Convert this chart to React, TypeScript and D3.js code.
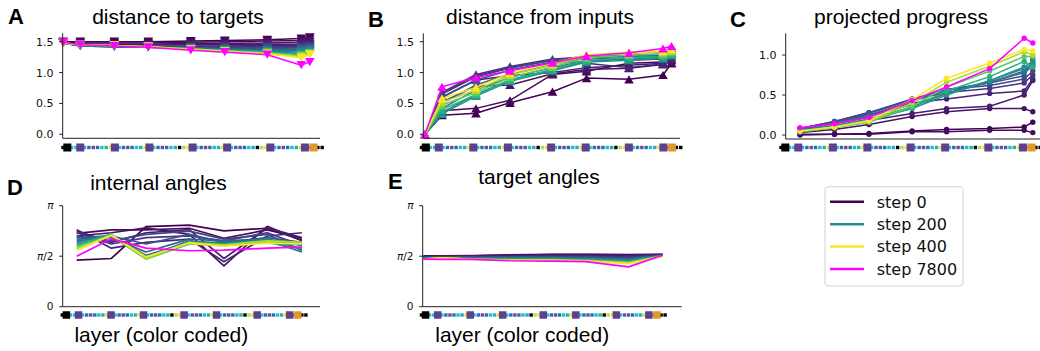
import React from "react";
import * as d3 from "d3";

// training steps shown as separate lines (last one is the final step)
const steps = [0, 10, 20, 30, 40, 60, 80, 100, 125, 150, 175, 200, 250, 300, 350, 400, 7800];
const legendSteps = [0, 200, 400, 7800];

// layer indices where each panel has a value
const layersA = [0, 4, 12, 20, 30, 38, 48, 56, 58];
const layersB = [0, 4, 12, 20, 30, 38, 48, 56, 58];
const layersC = [4, 12, 20, 30, 38, 48, 56, 58];
const layersD = [4, 12, 20, 30, 38, 48, 56];
const layersE = [0, 4, 12, 20, 30, 38, 48, 56];

// layer types along the x axis (color code strip)
const layerTypes = [
  "k", "in", "c", "c", "blk",
  "c", "b", "p", "b", "c", "t", "y", "blk",
  "c", "b", "p", "b", "c", "t", "y", "blk",
  "c", "b", "p", "b", "c", "t", "k", "g", "y", "blk",
  "c", "b", "p", "b", "c", "t", "y", "blk",
  "c", "b", "p", "b", "c", "t", "k", "g", "y", "blk",
  "c", "b", "p", "b", "c", "t", "y", "blk",
  "r", "out", "k", "k",
];
const bigTypes = ["in", "blk", "out"];
const typeColor: Record<string, string> = {
  in: "#000000", blk: "#5d4190", out: "#e0982a", k: "#000000",
  c: "#1cc0d2", b: "#2b6db2", p: "#6b4c9a", t: "#2aaeb5",
  y: "#f4e01c", g: "#a8e05f", r: "#f0506e",
};

// A: distance to targets
const distTargets = [
  [1.50, 1.50, 1.50, 1.50, 1.51, 1.52, 1.53, 1.55, 1.57],
  [1.49, 1.48, 1.48, 1.48, 1.49, 1.50, 1.51, 1.52, 1.54],
  [1.49, 1.46, 1.46, 1.46, 1.47, 1.47, 1.48, 1.49, 1.50],
  [1.48, 1.45, 1.45, 1.45, 1.45, 1.45, 1.46, 1.46, 1.47],
  [1.48, 1.44, 1.44, 1.43, 1.43, 1.43, 1.44, 1.44, 1.45],
  [1.48, 1.44, 1.43, 1.42, 1.42, 1.42, 1.42, 1.42, 1.43],
  [1.48, 1.43, 1.42, 1.41, 1.41, 1.40, 1.40, 1.40, 1.41],
  [1.48, 1.43, 1.42, 1.41, 1.40, 1.39, 1.39, 1.38, 1.40],
  [1.48, 1.43, 1.42, 1.41, 1.40, 1.38, 1.37, 1.37, 1.38],
  [1.48, 1.44, 1.42, 1.41, 1.39, 1.37, 1.36, 1.35, 1.37],
  [1.48, 1.44, 1.43, 1.41, 1.39, 1.37, 1.35, 1.33, 1.35],
  [1.48, 1.44, 1.43, 1.41, 1.39, 1.36, 1.34, 1.31, 1.34],
  [1.48, 1.45, 1.43, 1.42, 1.38, 1.36, 1.33, 1.29, 1.32],
  [1.48, 1.45, 1.43, 1.42, 1.38, 1.35, 1.32, 1.27, 1.31],
  [1.48, 1.45, 1.44, 1.42, 1.38, 1.35, 1.31, 1.26, 1.30],
  [1.48, 1.45, 1.44, 1.42, 1.37, 1.34, 1.30, 1.24, 1.29],
  [1.49, 1.45, 1.43, 1.41, 1.36, 1.33, 1.29, 1.12, 1.17],
];

// B: distance from inputs
const distInputs = [
  [0, 0.31, 0.34, 0.51, 0.69, 0.91, 0.89, 0.96, 1.15],
  [0, 0.38, 0.42, 0.55, 0.97, 1.02, 1.15, 1.17, 1.16],
  [0, 0.52, 0.78, 0.80, 0.98, 1.05, 1.07, 1.13, 1.20],
  [0, 0.60, 0.88, 0.95, 1.00, 1.08, 1.12, 1.15, 1.22],
  [0, 0.66, 0.95, 1.08, 1.20, 1.15, 1.08, 1.14, 1.25],
  [0, 0.68, 0.97, 1.10, 1.22, 1.25, 1.20, 1.22, 1.28],
  [0, 0.65, 0.93, 1.07, 1.20, 1.27, 1.27, 1.28, 1.40],
  [0, 0.60, 0.88, 1.04, 1.17, 1.26, 1.28, 1.30, 1.38],
  [0, 0.50, 0.80, 0.98, 1.13, 1.24, 1.26, 1.29, 1.35],
  [0, 0.42, 0.72, 0.92, 1.08, 1.20, 1.24, 1.27, 1.32],
  [0, 0.35, 0.65, 0.88, 1.05, 1.18, 1.22, 1.25, 1.30],
  [0, 0.33, 0.62, 0.86, 1.03, 1.17, 1.20, 1.23, 1.28],
  [0, 0.40, 0.64, 0.88, 1.05, 1.20, 1.24, 1.26, 1.30],
  [0, 0.47, 0.68, 0.92, 1.09, 1.24, 1.28, 1.30, 1.33],
  [0, 0.52, 0.72, 0.96, 1.12, 1.27, 1.31, 1.33, 1.36],
  [0, 0.58, 0.76, 0.99, 1.15, 1.29, 1.33, 1.35, 1.38],
  [0, 0.77, 0.92, 1.03, 1.16, 1.27, 1.32, 1.39, 1.43],
];

// C: projected progress
const progress = [
  [0.00, 0.01, 0.02, 0.05, 0.07, 0.08, 0.10, 0.16],
  [0.01, 0.01, 0.01, 0.04, 0.04, 0.06, 0.06, 0.03],
  [0.03, 0.07, 0.13, 0.23, 0.29, 0.33, 0.33, 0.29],
  [0.05, 0.11, 0.18, 0.27, 0.33, 0.36, 0.50, 0.68],
  [0.07, 0.15, 0.25, 0.40, 0.45, 0.52, 0.55, 0.70],
  [0.08, 0.17, 0.28, 0.44, 0.53, 0.58, 0.65, 0.75],
  [0.08, 0.17, 0.28, 0.45, 0.57, 0.62, 0.70, 0.80],
  [0.08, 0.16, 0.27, 0.44, 0.57, 0.65, 0.74, 0.95],
  [0.07, 0.15, 0.25, 0.42, 0.55, 0.66, 0.78, 0.86],
  [0.06, 0.14, 0.23, 0.38, 0.52, 0.66, 0.80, 0.90],
  [0.05, 0.12, 0.20, 0.35, 0.52, 0.68, 0.83, 0.88],
  [0.05, 0.11, 0.19, 0.33, 0.50, 0.68, 0.85, 0.92],
  [0.04, 0.10, 0.17, 0.34, 0.55, 0.73, 0.92, 0.85],
  [0.04, 0.09, 0.16, 0.36, 0.60, 0.80, 0.98, 0.98],
  [0.05, 0.10, 0.17, 0.40, 0.66, 0.86, 1.04, 1.00],
  [0.05, 0.10, 0.18, 0.44, 0.71, 0.90, 1.07, 1.05],
  [0.09, 0.14, 0.22, 0.43, 0.60, 0.83, 1.21, 1.15],
];

// D: internal angles (radians)
const internalAngles = [
  [1.45, 1.50, 2.49, 2.54, 2.36, 2.44, 2.07],
  [2.28, 2.39, 2.39, 2.44, 2.13, 2.39, 2.13],
  [2.20, 2.30, 2.45, 2.25, 1.27, 2.50, 2.05],
  [2.36, 2.00, 2.30, 2.40, 1.50, 2.45, 2.15],
  [2.39, 1.82, 2.00, 2.10, 1.40, 2.20, 2.30],
  [2.30, 1.95, 2.15, 2.20, 2.05, 2.30, 1.90],
  [2.20, 2.05, 2.25, 2.35, 2.10, 2.25, 1.75],
  [2.15, 2.20, 1.95, 2.25, 2.00, 2.15, 2.00],
  [2.10, 2.15, 1.70, 2.10, 2.05, 2.10, 1.80],
  [2.05, 2.20, 1.60, 2.00, 2.00, 2.05, 1.70],
  [2.00, 2.25, 1.55, 2.05, 1.95, 2.10, 1.90],
  [1.95, 2.20, 1.52, 1.98, 1.92, 2.00, 1.80],
  [1.90, 2.25, 1.50, 1.95, 1.95, 2.05, 2.00],
  [1.85, 2.20, 1.48, 1.95, 1.90, 2.00, 1.95],
  [1.80, 2.24, 1.50, 2.00, 1.92, 2.05, 2.00],
  [1.75, 2.22, 1.55, 1.98, 1.88, 1.98, 1.95],
  [1.57, 2.11, 1.82, 1.74, 1.76, 1.82, 1.85],
];

// E: target angles (radians)
const targetAngles = [
  [1.57, 1.57, 1.58, 1.60, 1.62, 1.63, 1.62, 1.62],
  [1.58, 1.58, 1.59, 1.61, 1.63, 1.62, 1.61, 1.63],
  [1.57, 1.57, 1.58, 1.59, 1.61, 1.61, 1.60, 1.62],
  [1.56, 1.56, 1.57, 1.58, 1.60, 1.60, 1.58, 1.61],
  [1.55, 1.56, 1.56, 1.57, 1.58, 1.58, 1.56, 1.61],
  [1.54, 1.55, 1.55, 1.56, 1.57, 1.56, 1.54, 1.60],
  [1.53, 1.54, 1.54, 1.55, 1.55, 1.55, 1.52, 1.60],
  [1.52, 1.53, 1.53, 1.54, 1.54, 1.53, 1.50, 1.59],
  [1.51, 1.52, 1.52, 1.53, 1.53, 1.51, 1.48, 1.59],
  [1.50, 1.52, 1.51, 1.52, 1.51, 1.50, 1.46, 1.58],
  [1.50, 1.51, 1.50, 1.50, 1.50, 1.48, 1.44, 1.58],
  [1.50, 1.51, 1.49, 1.49, 1.49, 1.47, 1.42, 1.58],
  [1.49, 1.51, 1.49, 1.47, 1.47, 1.45, 1.40, 1.58],
  [1.48, 1.51, 1.48, 1.46, 1.46, 1.44, 1.38, 1.57],
  [1.48, 1.52, 1.47, 1.45, 1.45, 1.43, 1.36, 1.57],
  [1.47, 1.52, 1.47, 1.44, 1.44, 1.42, 1.34, 1.57],
  [1.48, 1.47, 1.47, 1.43, 1.42, 1.40, 1.24, 1.60],
];

const distTicks = [0, 0.5, 1.0, 1.5];
const progressTicks = [0, 0.5, 1.0];
const angleTicks = [0, Math.PI / 2, Math.PI];
const angleTickLabels = ["0", "π/2", "π"];

const stepColor = (s: number) => (s > 400 ? "#ff00ff" : d3.interpolateViridis(s / 400));

const panels = [
  {
    letter: "A", title: "distance to targets", letterPos: [8, 23.5], titlePos: [178, 23.5],
    left: 62.7, right: 320, top: 33.3, bottom: 138.3,
    y: d3.scaleLinear().domain([0, 1.5]).range([134.3, 41.7]),
    ticks: distTicks, labels: distTicks.map(d3.format(".1f")),
    data: distTargets, layers: layersA, dataX0: 63.3, dataU: 4.25,
    stripX0: 63, stripU: 4.32, stripY: 147.5, big: 8, marker: "down",
  },
  {
    letter: "B", title: "distance from inputs", letterPos: [368, 26.7], titlePos: [540, 23.5],
    left: 423.3, right: 680, top: 33.3, bottom: 138.3,
    y: d3.scaleLinear().domain([0, 1.5]).range([134.3, 41.7]),
    ticks: distTicks, labels: distTicks.map(d3.format(".1f")),
    data: distInputs, layers: layersB, dataX0: 425, dataU: 4.25,
    stripX0: 421.5, stripU: 4.32, stripY: 147.5, big: 8, marker: "up",
  },
  {
    letter: "C", title: "projected progress", letterPos: [730, 26.7], titlePos: [901, 23.5],
    left: 785.7, right: 1040, top: 33.3, bottom: 139,
    y: d3.scaleLinear().domain([0, 1]).range([135, 55]),
    ticks: progressTicks, labels: progressTicks.map(d3.format(".1f")),
    data: progress, layers: layersC, dataX0: 782.8, dataU: 4.31,
    stripX0: 781, stripU: 4.32, stripY: 147.5, big: 8, marker: "circle",
  },
  {
    letter: "D", title: "internal angles", letterPos: [7, 195], titlePos: [158.5, 190],
    left: 62.7, right: 320, top: 205.7, bottom: 306.7,
    y: d3.scaleLinear().domain([0, Math.PI]).range([306.7, 205.7]),
    ticks: angleTicks, labels: angleTickLabels,
    data: internalAngles, layers: layersD, dataX0: 59.4, dataU: 4.33,
    stripX0: 62.3, stripU: 4.06, stripY: 315, big: 7.5, marker: "none",
  },
  {
    letter: "E", title: "target angles", letterPos: [388, 188.5], titlePos: [539, 183.5],
    left: 422.7, right: 681.7, top: 205.7, bottom: 306.7,
    y: d3.scaleLinear().domain([0, Math.PI]).range([306.7, 205.7]),
    ticks: angleTicks, labels: angleTickLabels,
    data: targetAngles, layers: layersE, dataX0: 423.5, dataU: 4.27,
    stripX0: 421.5, stripU: 4.06, stripY: 315, big: 7.5, marker: "none",
  },
];

const sans = "'Liberation Sans', Arial, Helvetica, sans-serif";
const dejavu = "'DejaVu Sans', sans-serif";

function Marker({ type, x, y, color }: { type: string; x: number; y: number; color: string }) {
  const h = 4.8;
  if (type === "down")
    return <path d={`M${x - h},${y - h * 0.85}L${x + h},${y - h * 0.85}L${x},${y + h * 0.85}Z`} fill={color} />;
  if (type === "up")
    return <path d={`M${x - h},${y + h * 0.85}L${x + h},${y + h * 0.85}L${x},${y - h * 0.85}Z`} fill={color} />;
  if (type === "circle") return <circle cx={x} cy={y} r={2.7} fill={color} />;
  return null;
}

function TickLabel({ text, x, y, angle }: { text: string; x: number; y: number; angle: boolean }) {
  return (
    <text x={x} y={y + (angle ? 3.5 : 4)} textAnchor="end" fontFamily={dejavu}
      fontSize={angle ? 10.5 : 11} fill="#111">
      {text.split("").map((ch, i) =>
        ch === "π" ? <tspan key={i} fontStyle="italic">π</tspan> : <tspan key={i}>{ch}</tspan>
      )}
    </text>
  );
}

function Panel({ p }: { p: (typeof panels)[number] }) {
  const x = d3.scaleLinear().domain([0, 60]).range([p.dataX0, p.dataX0 + 60 * p.dataU]);
  const sx = d3.scaleLinear().domain([0, 60]).range([p.stripX0, p.stripX0 + 60 * p.stripU]);
  const line = d3.line<number>().x((_, i) => x(p.layers[i])).y((v) => p.y(v));
  const isAngle = p.marker === "none";
  const small = layerTypes.map((t, i) => ({ t, i })).filter((d) => !bigTypes.includes(d.t));
  const big = layerTypes.map((t, i) => ({ t, i })).filter((d) => bigTypes.includes(d.t));
  return (
    <g>
      <text x={p.letterPos[0]} y={p.letterPos[1]} fontFamily={sans} fontWeight="bold" fontSize={22}>
        {p.letter}
      </text>
      <text x={p.titlePos[0]} y={p.titlePos[1]} fontFamily={sans} fontSize={21} textAnchor="middle">
        {p.title}
      </text>
      {/* color coded layer strip */}
      {small.map((d) => (
        <rect key={"s" + d.i} x={sx(d.i) - 1.7} y={p.stripY - 1.7} width={3.4} height={3.4}
          fill={typeColor[d.t]} />
      ))}
      {big.map((d) => (
        <rect key={"b" + d.i} x={sx(d.i) - p.big / 2} y={p.stripY - p.big / 2} width={p.big}
          height={p.big} fill={typeColor[d.t]} />
      ))}
      {/* series */}
      {p.data.map((vals, si) => {
        const c = stepColor(steps[si]);
        return (
          <g key={si}>
            <path d={line(vals) || ""} fill="none" stroke={c} strokeWidth={isAngle ? 1.7 : 1.5}
              strokeLinejoin="round" />
            {vals.map((v, vi) => (
              <Marker key={vi} type={p.marker} x={x(p.layers[vi])} y={p.y(v)} color={c} />
            ))}
          </g>
        );
      })}
      {/* axes */}
      <line x1={p.left} x2={p.left} y1={p.top} y2={p.bottom} stroke="#222" strokeWidth={1} />
      <line x1={p.left} x2={p.right} y1={p.bottom} y2={p.bottom} stroke="#222" strokeWidth={1} />
      {p.ticks.map((t, i) => (
        <g key={i}>
          <line x1={p.left - 3.5} x2={p.left} y1={p.y(t)} y2={p.y(t)} stroke="#222" strokeWidth={1} />
          <TickLabel text={p.labels[i]} x={p.left - 9.2} y={p.y(t)} angle={isAngle} />
        </g>
      ))}
      {isAngle && (
        <text x={(p.left + p.right) / 2 - 30} y={341.5} fontFamily={sans} fontSize={21} textAnchor="middle">
          layer (color coded)
        </text>
      )}
    </g>
  );
}

function Legend() {
  const rowY = d3.scaleLinear().domain([0, 3]).range([201.7, 269]);
  return (
    <g>
      <rect x={825} y={186.7} width={138} height={99.3} rx={3} fill="#fff" stroke="#d4d4d4" strokeWidth={1} />
      {legendSteps.map((s, i) => (
        <g key={s}>
          <line x1={830} x2={864} y1={rowY(i)} y2={rowY(i)} stroke={stepColor(s)} strokeWidth={2.5} />
          <text x={876.7} y={rowY(i) + 5.8} fontFamily={dejavu} fontSize={16} fill="#111">
            {"step " + s}
          </text>
        </g>
      ))}
    </g>
  );
}

export default function App() {
  return (
    <svg width={1040} height={351} style={{ position: "absolute", left: 0, top: 0, background: "#fff" }}>
      {panels.map((p) => (
        <Panel key={p.letter} p={p} />
      ))}
      <Legend />
    </svg>
  );
}
